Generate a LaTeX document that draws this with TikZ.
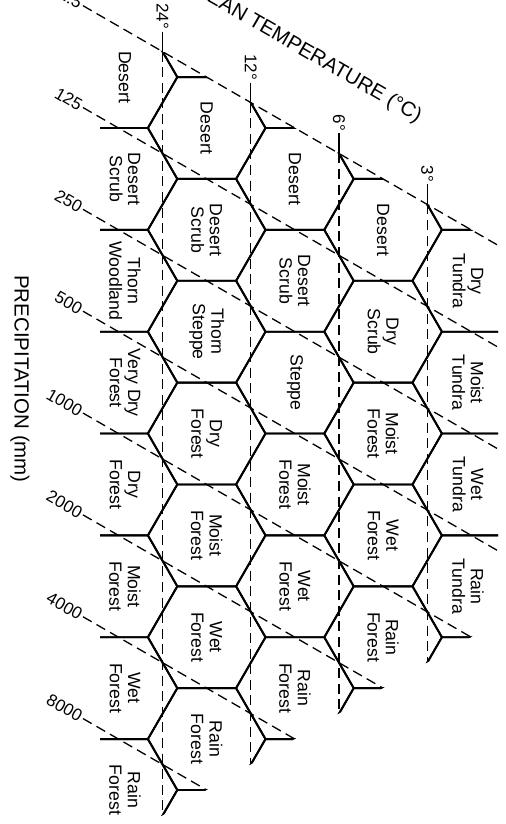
\documentclass[tikz,border=0pt]{standalone}
\usepackage{fontspec}
\setmainfont{Liberation Sans}
\usepackage{tikz}

\tikzset{
  hexline/.style={line width=0.95pt},
  gridline/.style={line width=0.65pt, dash pattern=on 5pt off 2.8pt},
  zone/.style={rotate=-90, align=center, inner sep=0pt, font=\fontsize{8.85}{9.2}\selectfont},
  axisnum/.style={inner sep=1pt, font=\fontsize{8.5}{9}\selectfont},
}

\begin{document}
\begin{tikzpicture}[x=0.5pt, y=-0.5pt]
    \useasboundingbox (0,0) rectangle (506,824);

    % hexagons, cut to the triangle
    \begin{scope}
        \clip (100,30) -- (125,29.94) -- (498,245.3) -- (498,621.5) -- (100,851.3) -- cycle;
        \foreach \col in {0,...,4}
            \foreach \rw in {-1,...,8}
                \draw[hexline] ({118.5+88.2*\col},{77.1+50.92*\col+101.84*\rw})
                    +(0:58.8) -- +(60:58.8) -- +(120:58.8) -- +(180:58.8) -- +(240:58.8) -- +(300:58.8) -- cycle;
    \end{scope}

    % precipitation lines
    \foreach \p [count=\k from 0] in {62.5,125,250,500,1000,2000,4000,8000}
        \node[axisnum, rotate=-30, anchor=east] (p\k) at (83,{5.7+101.84*\k}) {\p};
    \begin{scope}
        \clip (60,-20) -- (498,-20) -- (498,621.5) -- (60,874.4) -- cycle;
        \foreach \k in {0,...,7}
            \draw[gridline] (p\k.east) -- ++(415,239.6);
    \end{scope}

    % temperature lines
    \foreach \t [count=\k from 0] in {24,12,6,3} {
        \node[axisnum, rotate=-90, anchor=east] (t\k) at ({162.6+88.2*\k},{31.65+50.92*\k}) {\t°};
        \draw[line width=0.65pt] (t\k.east) -- ++(0,20) coordinate (top\k);
        \draw[gridline] (top\k) -- ++(0,{763.5-101.84*\k});
    }

    % life zones
    \foreach \z [count=\rw from 0] in {Desert, Desert\\Scrub, Thorn\\Woodland, Very Dry\\Forest, Dry\\Forest, Moist\\Forest, Wet\\Forest, Rain\\Forest}
        \node[zone] (za\rw) at (125,{77.1+101.84*\rw}) {\z};
    \foreach \z [count=\rw from 0] in {Desert, Desert\\Scrub, Thorn\\Steppe, Dry\\Forest, Moist\\Forest, Wet\\Forest, Rain\\Forest}
        \node[zone] (zb\rw) at (206.7,{128.02+101.84*\rw}) {\z};
    \foreach \z [count=\rw from 0] in {Desert, Desert\\Scrub, Steppe, Moist\\Forest, Wet\\Forest, Rain\\Forest}
        \node[zone] (zc\rw) at (294.9,{178.94+101.84*\rw}) {\z};
    \foreach \z [count=\rw from 0] in {Desert, Dry\\Scrub, Moist\\Forest, Wet\\Forest, Rain\\Forest}
        \node[zone] (zd\rw) at (383.1,{229.86+101.84*\rw}) {\z};
    \foreach \z [count=\rw from 0] in {Dry\\Tundra, Moist\\Tundra, Wet\\Tundra, Rain\\Tundra}
        \node[zone] (ze\rw) at (468,{280.78+101.84*\rw}) {\z};

    % axis titles
    \node[rotate=-30, anchor=base west, inner sep=0pt, font=\fontsize{10.25}{11}\selectfont] (ttl) at (191,-8) {MEAN TEMPERATURE (°C)};
    \node[rotate=-90, inner sep=0pt, font=\fontsize{10.25}{11}\selectfont] (prc) at (20,379) {PRECIPITATION (mm)};
\end{tikzpicture}
\end{document}
